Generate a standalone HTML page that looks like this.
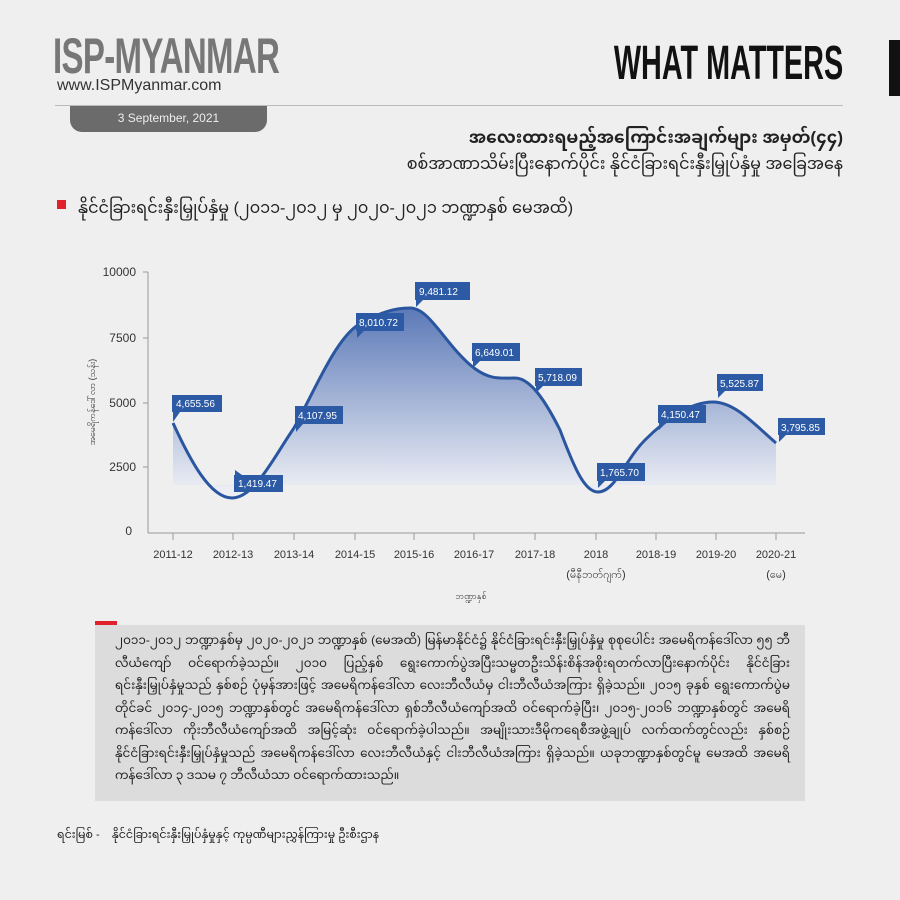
<!DOCTYPE html>
<html><head><meta charset="utf-8"><style>
body{margin:0;width:900px;height:900px;background:#efefef;position:relative;overflow:hidden;font-family:"Liberation Sans",sans-serif}
.a{position:absolute}
.my{font-family:"Liberation Sans","Noto Sans Myanmar","Myanmar Text",sans-serif}
</style></head><body>
<div class="a" style="left:53px;top:28px;font-family:'Liberation Sans Narrow','Liberation Sans',sans-serif;font-weight:bold;font-size:50px;color:#777;letter-spacing:-1px;line-height:56px;transform:scaleX(0.66);transform-origin:left;white-space:nowrap">ISP-MYANMAR</div>
<div class="a" style="left:57px;top:77px;font-size:16px;color:#333">www.ISPMyanmar.com</div>
<div class="a" style="right:57px;top:38px;font-family:'Liberation Sans Narrow','Liberation Sans',sans-serif;font-weight:bold;font-size:48px;color:#111;line-height:52px;transform:scaleX(0.6);transform-origin:right;white-space:nowrap">WHAT MATTERS</div>
<div class="a" style="left:889px;top:40px;width:11px;height:56px;background:#111"></div>
<div class="a" style="left:55px;top:105px;width:788px;height:1px;background:#bbb"></div>
<div class="a" style="left:70px;top:106px;width:197px;height:26px;background:#6b6b6b;border-radius:0 0 12px 12px;color:#eee;font-size:12px;text-align:center;line-height:24px">3 September, 2021</div>
<div class="a my" style="right:57px;top:120px;font-size:17px;font-weight:bold;color:#222">အလေးထားရမည့်အကြောင်းအချက်များ အမှတ်(၄၄)</div>
<div class="a my" style="right:57px;top:148px;font-size:16px;color:#222">စစ်အာဏာသိမ်းပြီးနောက်ပိုင်း နိုင်ငံခြားရင်းနှီးမြှုပ်နှံမှု အခြေအနေ</div>
<div class="a" style="left:57px;top:200px;width:9px;height:9px;background:#e0202a"></div>
<div class="a my" style="left:78px;top:192px;font-size:16px;color:#222">နိုင်ငံခြားရင်းနှီးမြှုပ်နှံမှု (၂၀၁၁-၂၀၁၂ မှ ၂၀၂၀-၂၀၂၁ ဘဏ္ဍာနှစ် မေအထိ)</div>

<svg class="a" style="left:0;top:0" width="900" height="620">
<defs><linearGradient id="g" gradientUnits="userSpaceOnUse" x1="0" y1="300" x2="0" y2="490"><stop offset="0" stop-color="#5574b5"/><stop offset="1" stop-color="#eceef4"/></linearGradient></defs>
<g stroke="#999" stroke-width="1" fill="none">
<line x1="148" y1="272" x2="148" y2="533"/><line x1="148" y1="533" x2="805" y2="533"/>
<line x1="143" y1="272" x2="148" y2="272"/><line x1="143" y1="338" x2="148" y2="338"/><line x1="143" y1="403" x2="148" y2="403"/><line x1="143" y1="467" x2="148" y2="467"/>
<g><line x1="173" y1="533" x2="173" y2="540"/><line x1="233" y1="533" x2="233" y2="540"/><line x1="294" y1="533" x2="294" y2="540"/><line x1="355" y1="533" x2="355" y2="540"/><line x1="414" y1="533" x2="414" y2="540"/><line x1="474" y1="533" x2="474" y2="540"/><line x1="535" y1="533" x2="535" y2="540"/><line x1="596" y1="533" x2="596" y2="540"/><line x1="656" y1="533" x2="656" y2="540"/><line x1="716" y1="533" x2="716" y2="540"/><line x1="776" y1="533" x2="776" y2="540"/></g>
</g>
<path d="M173,423 C190,460 210,498 232,498 C255,498 275,455 294,428 C315,390 335,340 358,325 C380,312 395,308 410,308 C430,308 445,345 474,368 C490,380 500,378 515,378 C530,378 545,400 560,430 C575,470 585,492 598,492 C615,492 625,460 645,440 C665,420 690,402 713,402 C735,402 755,425 776,443 L776,485 L173,485 Z" fill="url(#g)"/>
<path d="M173,423 C190,460 210,498 232,498 C255,498 275,455 294,428 C315,390 335,340 358,325 C380,312 395,308 410,308 C430,308 445,345 474,368 C490,380 500,378 515,378 C530,378 545,400 560,430 C575,470 585,492 598,492 C615,492 625,460 645,440 C665,420 690,402 713,402 C735,402 755,425 776,443" fill="none" stroke="#2a56a0" stroke-width="3"/>
<g font-size="12" fill="#333" text-anchor="end" font-family="Liberation Sans,sans-serif">
<text x="136" y="276">10000</text><text x="136" y="342">7500</text><text x="136" y="407">5000</text><text x="136" y="471">2500</text><text x="132" y="535">0</text></g>
<g fill="#2c5aa5">
<rect x="172" y="395" width="50" height="17"/><polygon points="173,412 173,422 180,412"/>
<rect x="234" y="475" width="49" height="17"/><polygon points="235,475 235,470 242,475"/>
<rect x="295" y="406" width="48" height="18"/><polygon points="296,424 296,432 303,424"/>
<rect x="356" y="313" width="48" height="18"/><polygon points="357,331 357,338 364,331"/>
<rect x="415" y="282" width="55" height="18"/><polygon points="416,300 416,307 423,300"/>
<rect x="472" y="343" width="48" height="18"/><polygon points="473,361 473,368 480,361"/>
<rect x="535" y="368" width="47" height="18"/><polygon points="536,386 536,393 543,386"/>
<rect x="597" y="463" width="48" height="18"/><polygon points="598,481 598,488 605,481"/>
<rect x="658" y="405" width="48" height="18"/><polygon points="659,423 659,430 666,423"/>
<rect x="717" y="374" width="46" height="17"/><polygon points="718,391 718,398 725,391"/>
<rect x="778" y="418" width="47" height="17"/><polygon points="779,435 779,442 786,435"/>
</g>
<g fill="#fff" font-size="10" font-family="Liberation Sans,sans-serif">
<text x="176" y="407">4,655.56</text><text x="238" y="487">1,419.47</text><text x="298" y="419">4,107.95</text><text x="359" y="326">8,010.72</text><text x="419" y="295">9,481.12</text><text x="475" y="356">6,649.01</text><text x="538" y="381">5,718.09</text><text x="600" y="476">1,765.70</text><text x="661" y="418">4,150.47</text><text x="720" y="387">5,525.87</text><text x="781" y="431">3,795.85</text>
</g>
<g font-size="11" fill="#333" text-anchor="middle" font-family="Liberation Sans,sans-serif">
<text x="173" y="558">2011-12</text><text x="233" y="558">2012-13</text><text x="294" y="558">2013-14</text><text x="355" y="558">2014-15</text><text x="414" y="558">2015-16</text><text x="474" y="558">2016-17</text><text x="535" y="558">2017-18</text><text x="596" y="558">2018</text><text x="596" y="578">(မီနီဘတ်ဂျက်)</text><text x="656" y="558">2018-19</text><text x="716" y="558">2019-20</text><text x="776" y="558">2020-21</text><text x="776" y="578">(မေ)</text>
<text x="471" y="599" font-size="9">ဘဏ္ဍာနှစ်</text>
<text transform="translate(95,402) rotate(-90)" font-size="9">အမေရိကန်ဒေါ်လာ (သန်း)</text>
</g>
</svg>

<div class="a" style="left:95px;top:625px;width:710px;height:176px;background:#dcdcdc"></div>
<div class="a" style="left:95px;top:621px;width:22px;height:4px;background:#e0202a"></div>
<div class="a my" style="left:115px;top:629px;width:675px;font-size:12px;line-height:22.5px;color:#222;text-align:justify">၂၀၁၁-၂၀၁၂ ဘဏ္ဍာနှစ်မှ ၂၀၂၀-၂၀၂၁ ဘဏ္ဍာနှစ် (မေအထိ) မြန်မာနိုင်ငံ၌ နိုင်ငံခြားရင်းနှီးမြှုပ်နှံမှု စုစုပေါင်း အမေရိကန်ဒေါ်လာ ၅၅ ဘီလီယံကျော် ဝင်ရောက်ခဲ့သည်။ ၂၀၁၀ ပြည့်နှစ် ရွေးကောက်ပွဲအပြီးသမ္မတဦးသိန်းစိန်အစိုးရတက်လာပြီးနောက်ပိုင်း နိုင်ငံခြားရင်းနှီးမြှုပ်နှံမှုသည် နှစ်စဉ် ပုံမှန်အားဖြင့် အမေရိကန်ဒေါ်လာ လေးဘီလီယံမှ ငါးဘီလီယံအကြား ရှိခဲ့သည်။ ၂၀၁၅ ခုနှစ် ရွေးကောက်ပွဲမတိုင်ခင် ၂၀၁၄-၂၀၁၅ ဘဏ္ဍာနှစ်တွင် အမေရိကန်ဒေါ်လာ ရှစ်ဘီလီယံကျော်အထိ ဝင်ရောက်ခဲ့ပြီး၊ ၂၀၁၅-၂၀၁၆ ဘဏ္ဍာနှစ်တွင် အမေရိကန်ဒေါ်လာ ကိုးဘီလီယံကျော်အထိ အမြင့်ဆုံး ဝင်ရောက်ခဲ့ပါသည်။ အမျိုးသားဒီမိုကရေစီအဖွဲ့ချုပ် လက်ထက်တွင်လည်း နှစ်စဉ် နိုင်ငံခြားရင်းနှီးမြှုပ်နှံမှုသည် အမေရိကန်ဒေါ်လာ လေးဘီလီယံနှင့် ငါးဘီလီယံအကြား ရှိခဲ့သည်။ ယခုဘဏ္ဍာနှစ်တွင်မူ မေအထိ အမေရိကန်ဒေါ်လာ ၃ ဒသမ ၇ ဘီလီယံသာ ဝင်ရောက်ထားသည်။</div>
<div class="a my" style="left:57px;top:824px;font-size:11px;color:#222">ရင်းမြစ် -&nbsp;&nbsp;&nbsp; နိုင်ငံခြားရင်းနှီးမြှုပ်နှံမှုနှင့် ကုမ္ပဏီများညွှန်ကြားမှု ဦးစီးဌာန</div>
</body></html>
